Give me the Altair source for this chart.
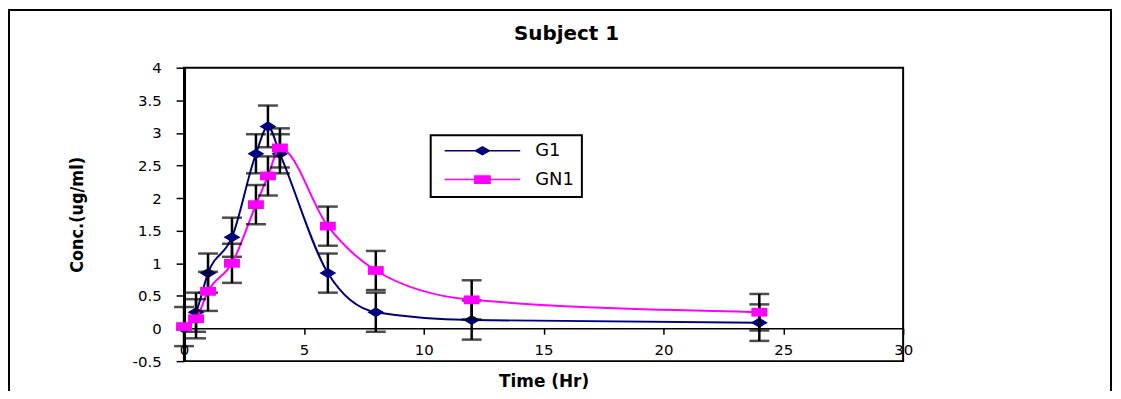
import altair as alt
import pandas as pd

# ---- data ----
times = [0, 0.5, 1, 2, 3, 3.5, 4, 6, 8, 12, 24]
g1_conc = [0, 0.25, 0.85, 1.4, 2.68, 3.1, 2.68, 0.85, 0.25, 0.13, 0.09]
g1_err = [0, 0.3, 0.3, 0.3, 0.3, 0.32, 0.3, 0.3, 0.3, 0.3, 0.28]
gn1_conc = [0.03, 0.15, 0.57, 1.0, 1.9, 2.34, 2.77, 1.57, 0.89, 0.44, 0.25]
gn1_err = [0.3, 0.3, 0.3, 0.3, 0.3, 0.3, 0.3, 0.3, 0.3, 0.3, 0.28]

series_names = ["G1", "GN1"]
series_colors = ["#000080", "#FF00FF"]
x_ticks = [0, 5, 10, 15, 20, 25, 30]
y_ticks = [-0.5, 0, 0.5, 1, 1.5, 2, 2.5, 3, 3.5, 4]

# marker shapes (wide, as in the reference)
marker_paths = ["M-1,0L0,-0.6L1,0L0,0.6Z", "M-1,-0.55L1,-0.55L1,0.55L-1,0.55Z"]
marker_sizes = [289, 256]
legend_paths = [
    "M-1,-0.02L1,-0.02L1,0.02L-1,0.02Z M-0.224,0L0,-0.124L0.224,0L0,0.124Z",
    "M-1,-0.02L1,-0.02L1,0.02L-1,0.02Z M-0.224,-0.115L0.224,-0.115L0.224,0.115L-0.224,0.115Z",
]


def make_df(name, conc, err):
    return pd.DataFrame({
        "t": times,
        "c": conc,
        "lo": [c - e for c, e in zip(conc, err)],
        "hi": [c + e for c, e in zip(conc, err)],
        "err": err,
        "series": name,
    })


df_g1 = make_df("G1", g1_conc, g1_err)
df_gn1 = make_df("GN1", gn1_conc, gn1_err)
df_all = pd.concat([df_g1, df_gn1], ignore_index=True)

W, H = 723, 295

x_axis = alt.Axis(
    values=x_ticks, labelExpr="'' + datum.value", grid=False, offset=-33,
    tickSize=6, labelPadding=8, labelFlush=False, labelOverlap=False,
    domainColor="black", domainWidth=1.5, tickColor="black", tickWidth=1.5,
    labelFont="DejaVu Sans", labelFontSize=15, labelColor="black",
    titleFont="DejaVu Sans", titleFontWeight="bold", titleFontSize=17,
    titleColor="black", titlePadding=17,
)
y_axis = alt.Axis(
    values=y_ticks, labelExpr="'' + datum.value", grid=False,
    tickSize=8, labelPadding=15, labelOverlap=False, labelFlush=False,
    domainColor="black", domainWidth=3, tickColor="black", tickWidth=1.5,
    labelFont="DejaVu Sans", labelFontSize=15, labelColor="black",
    titleFont="'Liberation Sans Narrow', 'DejaVu Sans Condensed', 'Liberation Sans', sans-serif",
    titleFontWeight="bold", titleFontSize=18,
    titleColor="black", titlePadding=46,
)

x_scale = alt.Scale(domain=[0, 30], nice=False, zero=False)
y_scale = alt.Scale(domain=[-0.5, 4], nice=False, zero=False)
X_TITLE = "Time (Hr)"
Y_TITLE = "Conc.(ug/ml)"


def xe():
    return alt.X("t:Q", scale=x_scale, axis=x_axis, title=X_TITLE)


def ye(field):
    return alt.Y(f"{field}:Q", scale=y_scale, axis=y_axis, title=Y_TITLE)


# outer chart-area border
border = alt.Chart(pd.DataFrame({"k": [0]})).mark_rect(
    fillOpacity=0, stroke="black", strokeWidth=2
).encode(
    x=alt.value(-176), x2=alt.value(932), y=alt.value(-58), y2=alt.value(420)
)

layers = [border]
for i, df in enumerate([df_g1, df_gn1]):
    col = series_colors[i]
    base = alt.Chart(df)
    line = base.mark_line(color=col, strokeWidth=2, interpolate="monotone").encode(
        x=xe(), y=ye("c"))
    eb = base.transform_filter("datum.err > 0")
    rule = eb.mark_rule(color="black", strokeWidth=2.5).encode(
        x=xe(), y=ye("lo"), y2="hi:Q")
    cap_lo = eb.mark_tick(color="black", orient="horizontal", size=20, thickness=2.5).encode(
        x=xe(), y=ye("lo"))
    cap_hi = eb.mark_tick(color="black", orient="horizontal", size=20, thickness=2.5).encode(
        x=xe(), y=ye("hi"))
    pts = base.mark_point(filled=True, shape=marker_paths[i], size=marker_sizes[i],
                          color=col, opacity=1).encode(x=xe(), y=ye("c"))
    layers += [line, rule, cap_lo, cap_hi, pts]

legend_layer = alt.Chart(df_all).mark_point(filled=True, size=0).encode(
    x=xe(), y=ye("c"),
    color=alt.Color("series:N", scale=alt.Scale(domain=series_names, range=series_colors),
                    legend=alt.Legend(title=None, symbolSize=5776)),
    shape=alt.Shape("series:N", scale=alt.Scale(domain=series_names, range=legend_paths),
                    legend=alt.Legend(title=None, symbolSize=5776)),
)
layers.append(legend_layer)

chart = alt.layer(*layers).properties(
    width=W, height=H,
    background="white",
    autosize=alt.AutoSizeParams(type="none"),
    padding={"left": 177, "top": 59, "right": 211, "bottom": 29},
    title=alt.TitleParams("Subject 1", font="DejaVu Sans", fontSize=20, fontWeight="bold",
                          color="black", anchor="middle", dx=23, dy=51, offset=0,
                          baseline="alphabetic"),
).configure_view(
    stroke="black", strokeWidth=2
).configure_legend(
    orient="none", legendX=248, legendY=68, padding=8, clipHeight=15, rowPadding=10,
    symbolOffset=6, labelOffset=15, symbolSize=5776, symbolStrokeWidth=0, symbolOpacity=1,
    labelFont="DejaVu Sans", labelFontSize=18, labelColor="black",
    strokeColor="black", strokeWidth=2, fillColor="white",
)

chart.save("out.html", embed_options={"renderer": "svg", "actions": False})
